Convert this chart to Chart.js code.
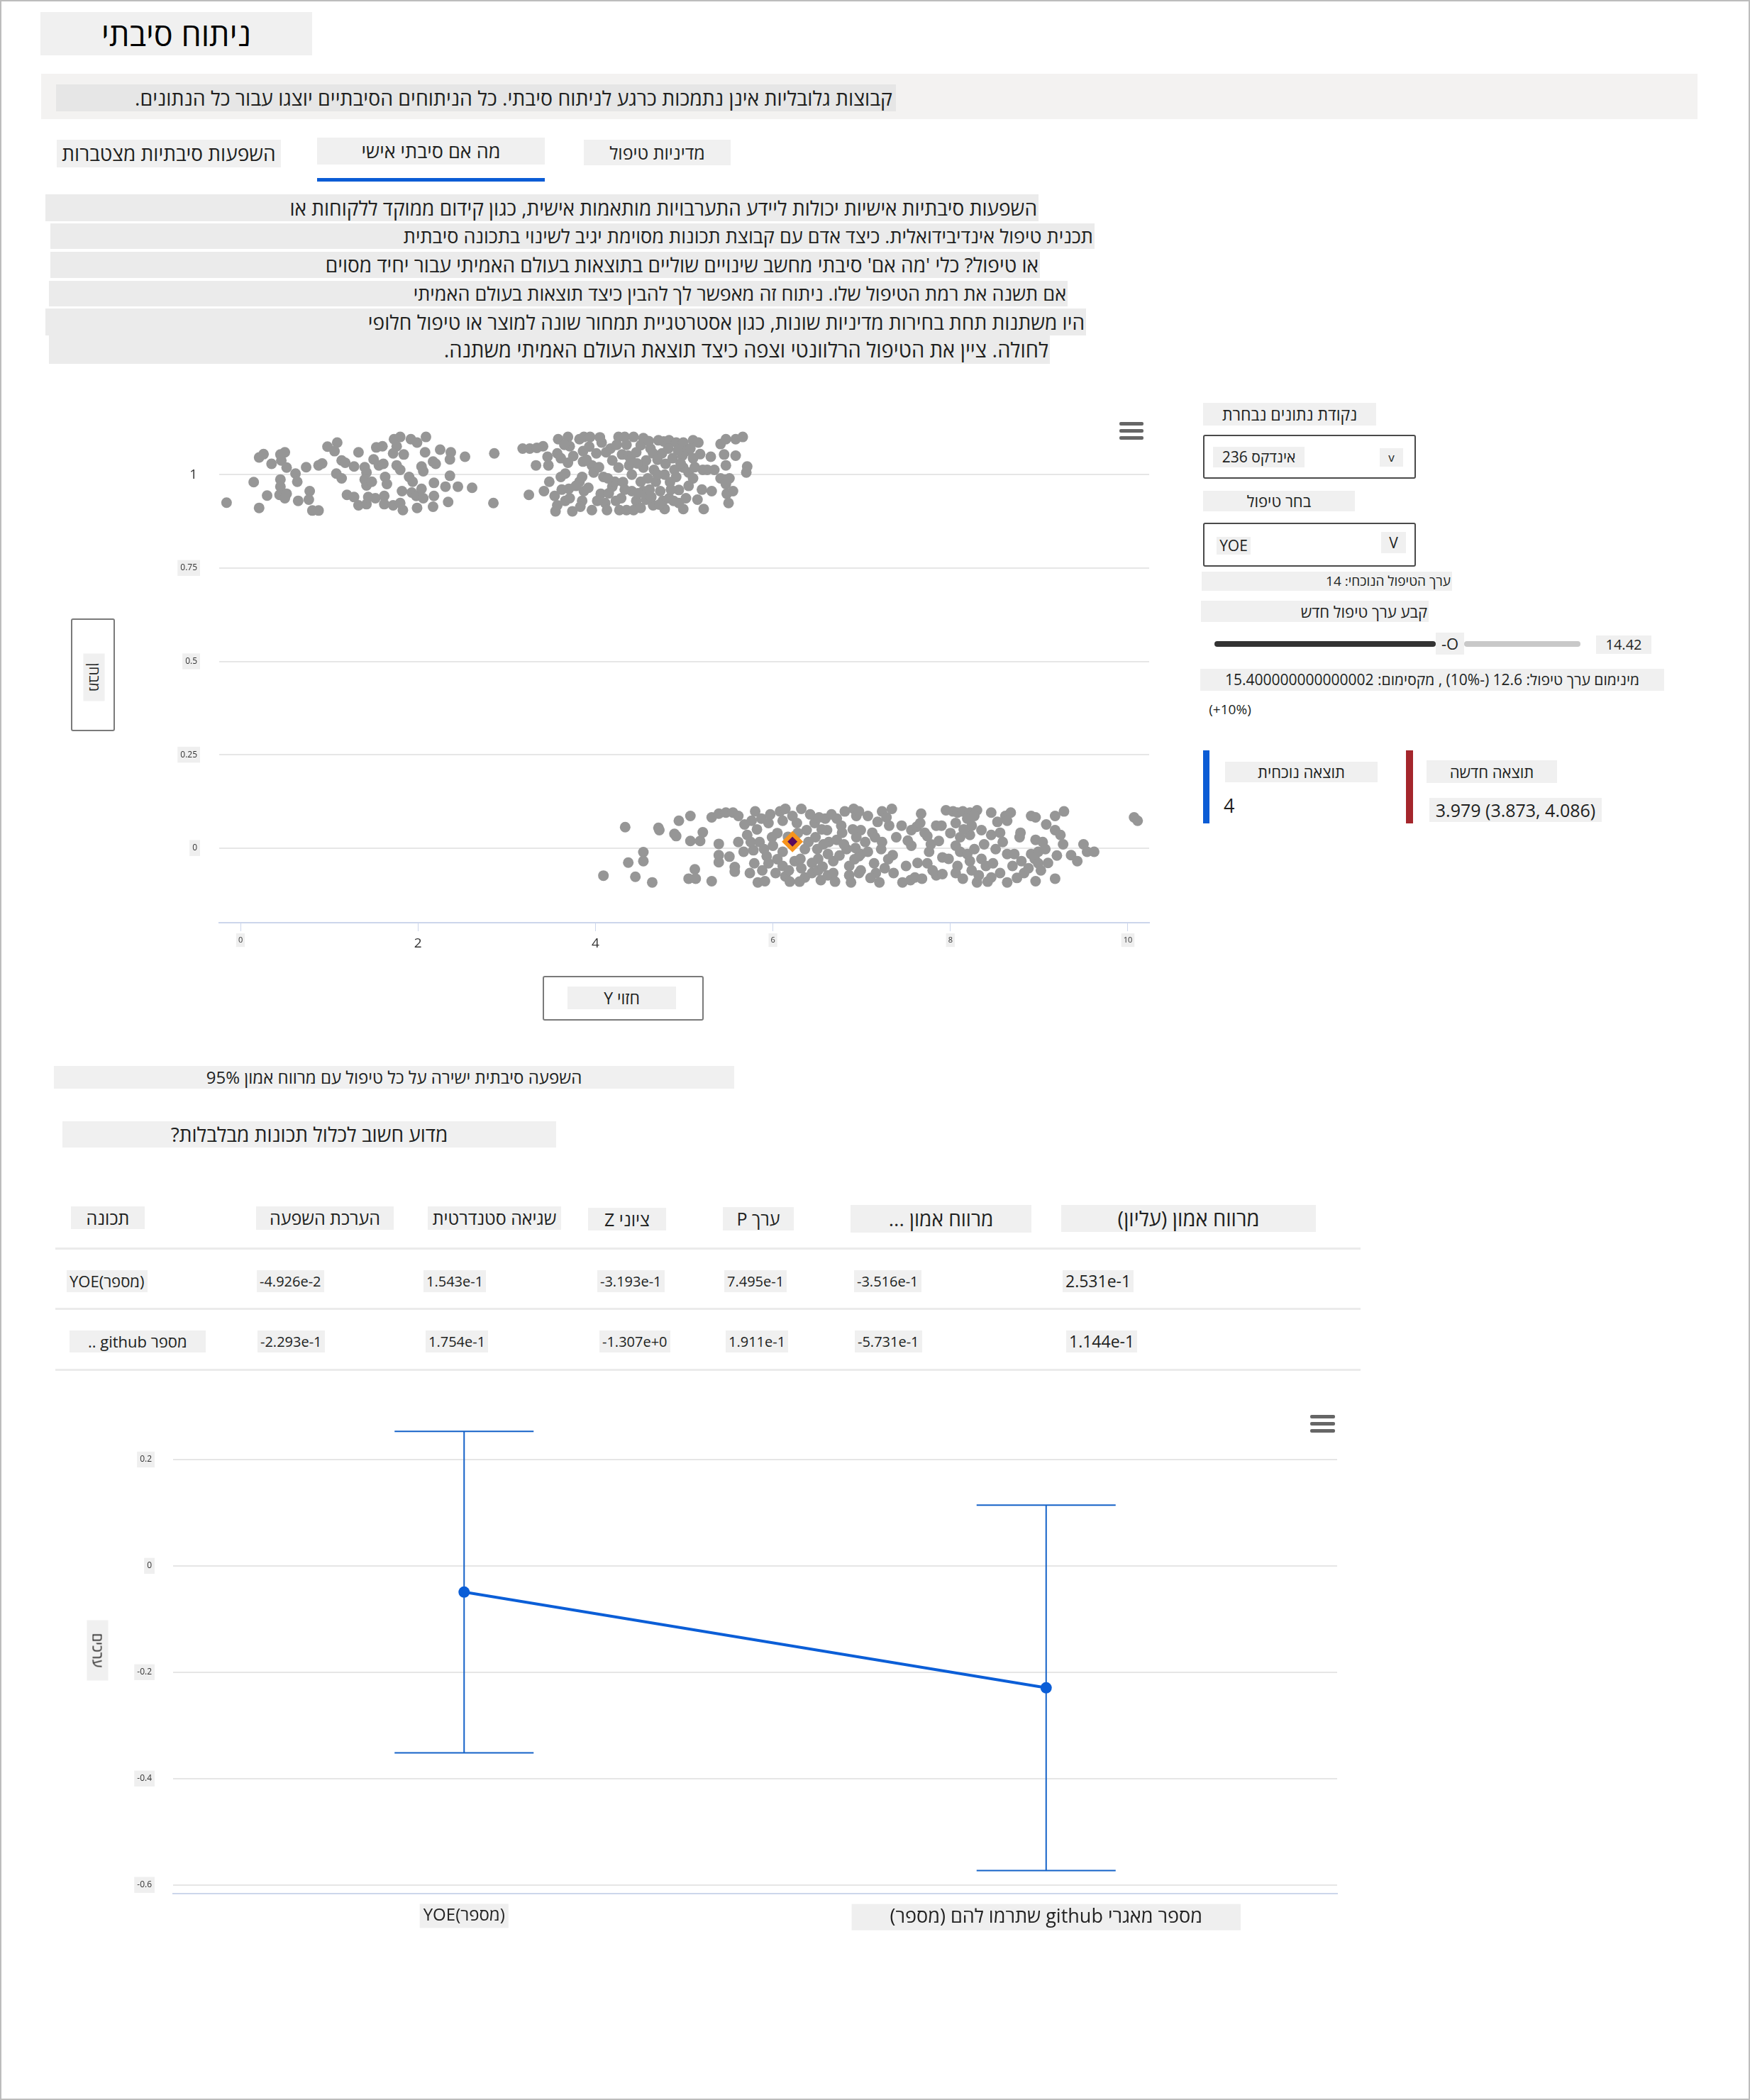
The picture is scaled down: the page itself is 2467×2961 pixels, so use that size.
<!DOCTYPE html>
<html lang="he">
<head>
<meta charset="utf-8">
<script src="https://cdn.jsdelivr.net/npm/chart.js@4.4.1/dist/chart.umd.min.js"></script>
<style>
html,body{margin:0;padding:0;background:#fff;}
body{width:2467px;height:2961px;position:relative;overflow:hidden;font-family:'Open Sans','DejaVu Sans',sans-serif;color:#201f1e;}
.frame{position:absolute;left:0;top:0;width:2463px;height:2957px;border:2px solid #bdbdbd;}
.b{position:absolute;background:#f0f0f0;white-space:nowrap;box-sizing:border-box;}
.c{text-align:center;}
.r{text-align:right;}
.line{position:absolute;background:#ebebeb;}
.d{background:#ebebeb;padding-right:2px;font-size:28px;}
.sel{position:absolute;box-sizing:border-box;border:2px solid #4a4a4a;border-radius:3px;background:#fff;}
.ham{position:absolute;height:5px;border-radius:2px;background:#666;}
.axbox{position:absolute;box-sizing:border-box;border:2px solid #7a7a7a;border-radius:3px;background:#fff;}
</style>
</head>
<body>
<div class="frame"></div>

<div class="b c" dir="rtl" style="left:57px;top:17px;width:383px;height:61px;line-height:61px;font-size:45px;color:#000">ניתוח סיבתי</div>

<div class="b" style="left:58px;top:104px;width:2335px;height:64px;background:#f3f2f1"></div>
<div class="b r" dir="rtl" style="left:79px;top:119px;width:1184px;height:38px;line-height:38px;font-size:28.4px;background:#e6e6e6;padding-right:5px">קבוצות גלובליות אינן נתמכות כרגע לניתוח סיבתי. כל הניתוחים הסיבתיים יוצגו עבור כל הנתונים.</div>

<div class="b c" dir="rtl" style="left:80px;top:197px;width:316px;height:39px;line-height:39px;font-size:28px">השפעות סיבתיות מצטברות</div>
<div class="b c" dir="rtl" style="left:447px;top:194px;width:321px;height:38px;line-height:38px;font-size:27px">מה אם סיבתי אישי</div>
<div class="b" style="left:447px;top:251px;width:321px;height:5px;background:#0b5cd5"></div>
<div class="b c" dir="rtl" style="left:823px;top:197px;width:207px;height:36px;line-height:36px;font-size:25px">מדיניות טיפול</div>

<div class="b r d" dir="rtl" style="left:64px;top:274px;width:1400px;height:38px;line-height:38px">השפעות סיבתיות אישיות יכולות ליידע התערבויות מותאמות אישית, כגון קידום ממוקד ללקוחות או</div>
<div class="b r d" dir="rtl" style="left:71px;top:315px;width:1472px;height:36px;line-height:36px;font-size:27px">תכנית טיפול אינדיבידואלית. כיצד אדם עם קבוצת תכונות מסוימת יגיב לשינוי בתכונה סיבתית</div>
<div class="b r d" dir="rtl" style="left:71px;top:355px;width:1395px;height:37px;line-height:37px">או טיפול? כלי 'מה אם' סיבתי מחשב שינויים שוליים בתוצאות בעולם האמיתי עבור יחיד מסוים</div>
<div class="b r d" dir="rtl" style="left:69px;top:396px;width:1436px;height:36px;line-height:36px;font-size:27px">אם תשנה את רמת הטיפול שלו. ניתוח זה מאפשר לך להבין כיצד תוצאות בעולם האמיתי</div>
<div class="b r d" dir="rtl" style="left:64px;top:435px;width:1467px;height:38px;line-height:38px">היו משתנות תחת בחירות מדיניות שונות, כגון אסטרטגיית תמחור שונה למוצר או טיפול חלופי</div>
<div class="b r d" dir="rtl" style="left:69px;top:473px;width:1411px;height:40px;line-height:40px;font-size:29px">לחולה. ציין את הטיפול הרלוונטי וצפה כיצד תוצאת העולם האמיתי משתנה.</div>

<!-- scatter chart -->
<div style="position:absolute;left:200px;top:540px;width:1440px;height:830px"><canvas id="scatter" width="1440" height="830" style="width:1440px;height:830px"></canvas></div>
<div class="ham" style="left:1578px;top:595px;width:34px"></div>
<div class="ham" style="left:1578px;top:605px;width:34px"></div>
<div class="ham" style="left:1578px;top:615px;width:34px"></div>
<div class="axbox" style="left:100px;top:872px;width:62px;height:159px"></div>
<div class="b c" dir="rtl" style="left:99px;top:940px;width:67px;height:30px;line-height:30px;font-size:20px;transform:rotate(90deg)">מבחן</div>
<div class="axbox" style="left:765px;top:1376px;width:227px;height:63px"></div>
<div class="b c" dir="rtl" style="left:800px;top:1391px;width:153px;height:32px;line-height:32px;font-size:23px">חזוי Y</div>

<!-- right panel -->
<div class="b c" dir="rtl" style="left:1696px;top:568px;width:244px;height:32px;line-height:32px;font-size:23px">נקודת נתונים נבחרת</div>
<div class="sel" style="left:1696px;top:613px;width:300px;height:62px"></div>
<div class="b c" dir="rtl" style="left:1710px;top:630px;width:129px;height:29px;line-height:29px;font-size:21px">אינדקס 236</div>
<div class="b c" style="left:1945px;top:632px;width:33px;height:26px;line-height:26px;font-size:17px">v</div>
<div class="b c" dir="rtl" style="left:1696px;top:692px;width:214px;height:29px;line-height:29px;font-size:22px">בחר טיפול</div>
<div class="sel" style="left:1696px;top:737px;width:300px;height:62px"></div>
<div class="b c" style="left:1715px;top:757px;width:48px;height:25px;line-height:25px;font-size:21px">YOE</div>
<div class="b c" style="left:1947px;top:750px;width:35px;height:30px;line-height:30px;font-size:21px">V</div>
<div class="b r" dir="rtl" style="left:1694px;top:806px;width:353px;height:27px;line-height:27px;font-size:19px;padding-right:2px">ערך הטיפול הנוכחי: 14</div>
<div class="b r" dir="rtl" style="left:1693px;top:847px;width:321px;height:30px;line-height:30px;font-size:22px;padding-right:2px">קבע ערך טיפול חדש</div>
<div class="b" style="left:1712px;top:904px;width:312px;height:8px;border-radius:4px;background:#333"></div>
<div class="b" style="left:2064px;top:904px;width:164px;height:8px;border-radius:4px;background:#c8c8c8"></div>
<div class="b c" style="left:2024px;top:892px;width:40px;height:31px;line-height:31px;font-size:22px">-O</div>
<div class="b c" style="left:2250px;top:896px;width:78px;height:26px;line-height:26px;font-size:20px">14.42</div>
<div class="b c" dir="rtl" style="left:1692px;top:943px;width:654px;height:31px;line-height:31px;font-size:21px">מינימום ערך טיפול: 12.6 (-10%) , מקסימום: 15.400000000000002</div>
<div class="b c" dir="ltr" style="left:1697px;top:987px;width:74px;height:27px;line-height:27px;font-size:19px;background:#fff">(+10%)</div>
<div class="b" style="left:1696px;top:1058px;width:9px;height:103px;background:#0b5cd5"></div>
<div class="b c" dir="rtl" style="left:1727px;top:1074px;width:215px;height:29px;line-height:29px;font-size:22px">תוצאה נוכחית</div>
<div class="b" style="left:1725px;top:1118px;height:36px;line-height:36px;font-size:27px;background:#fff">4</div>
<div class="b" style="left:1982px;top:1058px;width:10px;height:103px;background:#a4262c"></div>
<div class="b c" dir="rtl" style="left:2011px;top:1072px;width:184px;height:32px;line-height:32px;font-size:22px">תוצאה חדשה</div>
<div class="b c" style="left:2015px;top:1125px;width:243px;height:34px;line-height:34px;font-size:25px">3.979 (3.873, 4.086)</div>

<!-- section heads -->
<div class="b c" dir="rtl" style="left:76px;top:1503px;width:959px;height:32px;line-height:32px;font-size:24px">השפעה סיבתית ישירה על כל טיפול עם מרווח אמון 95%</div>
<div class="b c" dir="rtl" style="left:88px;top:1581px;width:696px;height:37px;line-height:37px;font-size:28px">מדוע חשוב לכלול תכונות מבלבלות?</div>

<!-- table -->
<div id="table"></div>

<!-- effects chart -->
<div style="position:absolute;left:100px;top:1960px;width:1810px;height:800px"><canvas id="effects" width="1810" height="800" style="width:1810px;height:800px"></canvas></div>
<div class="ham" style="left:1847px;top:1995px;width:35px"></div>
<div class="ham" style="left:1847px;top:2005px;width:35px"></div>
<div class="ham" style="left:1847px;top:2015px;width:35px"></div>
<div class="b c" dir="rtl" style="left:95px;top:2312px;width:85px;height:30px;line-height:30px;font-size:20px;transform:rotate(90deg)">ערכים</div>

<script>
// ---------- data ----------
const outcomeOnePoints = [
[-0.157,0.925],[0.149,0.980],[0.21,0.911],[0.21,1.046],[0.26,1.055],[0.30,0.944],[0.35,1.029],[0.45,0.987],[0.45,0.968],[0.45,1.054],[0.50,1.06],[0.46,1.038],[0.52,1.019],[0.44,0.946],[0.52,0.949],[0.50,0.937],[0.62,1.003],[0.64,0.981],[0.65,0.930],[0.74,1.02],[0.78,0.956],[0.77,0.933],[0.81,0.904],[0.88,0.904],[0.88,1.025],[0.92,1.03],[0.98,1.075],[1.09,1.086],[1.06,1.063],[1.08,1.003],[1.14,0.99],[1.14,1.038],[1.18,1.032],[1.20,0.946],[1.28,0.94],[1.28,1.022],[1.33,1.06],[1.33,0.918],[1.42,0.921],[1.40,1.02],[1.42,1.006],[1.40,0.987],[1.42,0.971],[1.48,0.981],[1.44,0.94],[1.52,0.937],[1.50,1.041],[1.53,1.073],[1.60,1.076],[1.56,1.025],[1.61,1.029],[1.63,0.994],[1.65,0.975],[1.62,0.943],[1.62,0.921],[1.72,0.918],[1.73,1.095],[1.80,1.101],[1.76,1.076],[1.72,1.057],[1.76,1.025],[1.80,1.013],[1.82,0.956],[1.83,0.905],[1.80,0.924],[1.84,1.054],[1.90,0.994],[1.94,0.981],[1.92,1.095],[1.99,1.086],[2.09,1.101],[1.93,0.952],[1.98,0.943],[2.04,0.962],[1.99,0.911],[2.04,1.022],[2.06,1.009],[2.08,1.06],[2.06,0.937],[2.17,1.035],[2.20,1.029],[2.18,0.978],[2.18,0.943],[2.17,0.914],[2.25,1.067],[2.31,0.968],[2.34,0.927],[2.36,1.041],[2.37,1.06],[2.36,0.997],[2.45,0.968],[2.53,1.048],[2.61,0.965],[2.86,1.057],[2.85,0.924],
[3.18,1.07],[3.26,1.07],[3.34,1.072],[3.41,1.076],[3.25,0.946],[3.33,1.025],[3.42,0.956],[3.46,1.048],[3.47,1.025],[3.48,0.981],[3.58,1.095],[3.69,1.101],[3.57,1.057],[3.61,1.044],[3.54,0.943],[3.57,0.918],[3.55,0.902],[3.61,0.994],[3.66,1.003],[3.69,1.032],[3.71,1.076],[3.70,0.962],[3.66,0.930],[3.71,0.937],[3.74,0.902],[3.82,1.095],[3.87,1.101],[3.94,1.101],[3.86,1.063],[3.86,1.035],[3.85,0.994],[3.82,0.981],[3.87,0.956],[3.85,0.930],[3.83,0.914],[3.96,1.025],[3.98,1.006],[4.01,1.057],[3.96,0.905],[4.07,1.086],[4.09,0.994],[4.06,0.949],[4.11,0.924],[4.13,0.905],[4.17,1.070],[4.19,1.038],[4.19,0.968],[4.22,0.981],[4.26,1.101],[4.33,1.101],[4.26,1.019],[4.30,1.054],[4.29,0.937],[4.27,0.905],[4.35,0.905],[4.37,1.051],[4.38,1.025],[4.41,1.0],[4.41,0.956],[4.43,1.101],[4.46,0.930],[4.43,0.905],[4.51,1.079],[4.54,1.098],[4.54,1.019],[4.57,1.038],[4.51,0.981],[4.54,0.956],[4.57,0.933],[4.51,0.911],[4.62,1.070],[4.65,1.057],[4.66,1.013],[4.68,0.981],[4.73,0.956],[4.65,0.918],[4.71,1.092],[4.77,1.089],[4.83,1.092],[4.75,1.057],[4.79,1.029],[4.78,1.0],[4.76,0.930],[4.78,0.908],[4.83,0.937],[4.87,1.044],[4.89,1.013],[4.91,0.994],[4.94,0.959],[4.91,1.086],[4.99,1.086],[4.94,0.924],[4.99,0.908],[4.98,1.051],[5.02,1.063],[4.99,1.019],[5.05,1.006],[5.02,0.937],[5.10,1.092],[5.16,1.086],[5.10,1.044],[5.10,0.990],[5.15,0.933],[5.22,0.908],[5.21,1.013],[5.26,1.013],[5.30,1.048],[5.31,0.956],[5.34,1.013],[5.41,1.082],[5.47,1.095],[5.45,1.054],[5.47,1.025],[5.41,0.990],[5.46,0.987],[5.51,0.990],[5.47,0.975],[5.48,0.949],[5.50,0.924],[5.58,1.051],[5.58,1.095],[5.66,1.101],[5.55,0.956],[5.71,1.022],[5.70,1.006],
[3.75,1.05],[3.78,0.97],[3.92,0.965],[3.93,1.075],[4.02,0.93],[4.04,1.02],[4.12,1.06],[4.14,0.99],[4.15,0.95],[4.23,0.93],[4.24,1.08],[4.31,0.98],[4.33,0.96],[4.35,1.08],[4.46,1.06],[4.47,1.03],[4.48,0.95],[4.59,0.99],[4.60,1.09],[4.61,0.96],[4.63,0.94],[4.70,1.04],[4.70,1.00],[4.72,0.92],[4.82,1.07],[4.84,0.98],[4.85,0.96],[4.88,0.93],[4.93,1.065],[4.96,1.03],[5.05,0.97],[5.07,1.07],[5.12,1.02],[5.18,1.055],[5.20,0.96],[3.65,1.08],[3.62,0.96],[3.90,1.04],[4.05,1.10],[4.40,1.04]
];
const outcomeZeroPoints = [
[4.335,0.056],[4.09,-0.074],[4.37,-0.039],[4.45,-0.077],[4.54,-0.011],[4.54,-0.035],[4.64,-0.092],[4.71,0.054],[4.72,0.048],[4.89,0.038],[4.91,0.032],[4.94,0.073],[5.07,0.086],[5.07,0.019],[5.18,0.019],[5.21,0.042],[5.12,-0.057],[5.05,-0.082],[5.13,-0.082],[5.31,-0.089],[5.31,0.082],[5.39,0.092],[5.47,0.095],[5.55,0.095],[5.61,0.086],[5.39,0.011],[5.39,-0.019],[5.39,-0.038],[5.51,-0.023],[5.57,-0.051],[5.57,-0.063],[5.61,0.016],[5.67,-0.010],[5.68,0.063],[5.76,0.073],[5.71,0.035],[5.75,0.016],[5.78,-0.006],[5.74,-0.067],[5.79,-0.041],[5.80,0.098],[5.83,-0.092],[5.91,-0.089],[5.87,0.079],[5.95,0.067],[5.85,0.016],[5.90,-0.003],[5.93,-0.022],[5.95,-0.041],[5.99,0.029],[6.0,0.006],[6.03,-0.067],[6.08,0.098],[6.14,0.105],[6.11,0.073],[6.11,-0.010],[6.11,-0.048],[6.14,-0.076],[6.22,0.086],[6.27,0.067],[6.32,0.105],[6.245,-0.035],[6.31,-0.029],[6.32,-0.054],[6.36,-0.079],[6.38,0.048],[6.40,0.016],[6.36,-0.003],[6.44,-0.067],[6.51,-0.060],[6.54,-0.086],[6.47,0.067],[6.52,0.082],[6.59,0.079],[6.48,0.029],[6.50,-0.003],[6.51,-0.029],[6.61,0.048],[6.63,0.016],[6.62,-0.016],[6.62,-0.073],[6.68,-0.035],[6.68,-0.067],[6.72,0.079],[6.72,0.022],[6.77,0.060],[6.78,0.041],[6.81,0.098],[6.91,0.105],[6.94,0.086],[6.83,-0.003],[6.86,-0.048],[6.86,-0.073],[6.88,-0.092],[6.94,0.029],[6.97,-0.022],[6.97,-0.067],
[6.97,0.098],[7.07,0.086],[6.99,0.048],[7.04,0.016],[6.99,-0.016],[7.07,-0.010],[6.99,-0.060],[7.12,0.041],[7.15,0.029],[7.14,-0.041],[7.16,-0.067],[7.20,-0.092],[7.26,-0.054],[7.23,0.098],[7.34,0.105],[7.28,0.082],[7.31,0.060],[7.23,0.016],[7.22,-0.003],[7.35,-0.019],[7.36,-0.067],[7.39,0.029],[7.46,-0.092],[7.50,-0.048],[7.55,-0.086],[7.60,-0.079],[7.68,-0.082],[7.56,0.048],[7.56,0.006],[7.62,0.057],[7.66,0.067],[7.67,0.092],[7.71,0.041],[7.74,0.032],[7.76,-0.010],[7.78,0.010],[7.74,-0.041],[7.84,0.060],[7.90,0.060],[7.87,0.019],[7.84,-0.073],[7.91,-0.070],[7.91,-0.025],[7.98,-0.029],[7.95,0.101],[8.03,0.098],[8.08,0.095],[8.14,0.098],[8.22,0.095],[8.30,0.101],[8.06,0.067],[8.11,0.029],[8.06,0.006],[8.08,-0.048],[8.06,-0.067],[8.14,-0.082],[8.11,-0.010],[8.19,0.079],[8.22,0.035],[8.24,0.060],[8.27,0.086],[8.19,-0.016],[8.22,-0.035],[8.27,-0.003],[8.24,-0.060],[8.30,-0.092],[8.32,-0.073],[8.35,-0.029],[8.35,0.048],[8.38,0.010],[8.40,-0.048],[8.46,0.095],[8.46,0.035],[8.48,-0.041],[8.46,-0.079],[8.51,-0.003],[8.56,0.041],[8.59,0.016],[8.56,-0.067],[8.62,0.086],[8.68,0.095],[8.64,0.073],[8.64,-0.016],[8.64,-0.092],[8.70,-0.048],[8.72,-0.016],[8.78,0.029],[8.79,0.041],[8.80,-0.035],[8.83,-0.067],[8.88,-0.054],[8.91,0.086],[8.96,0.082],[8.91,-0.016],[8.95,-0.029],[8.99,-0.010],[8.99,-0.041],[8.96,0.022],[9.04,0.016],[8.96,-0.089],[9.02,-0.060],[9.08,0.063],[9.07,-0.003],[9.18,0.086],[9.28,0.098],[9.18,0.048],[9.18,-0.082],[9.24,0.035],[9.27,0.010],[9.36,-0.019],[9.43,-0.035],[9.50,0.010],[9.54,-0.010],[9.62,-0.010],[10.07,0.082],[10.11,0.073],
[5.82,0.05],[5.88,-0.06],[5.97,0.09],[6.05,0.04],[6.05,-0.03],[6.17,0.03],[6.18,-0.06],[6.19,-0.09],[6.28,0.04],[6.30,-0.09],[6.42,0.09],[6.44,-0.04],[6.55,0.05],[6.57,0.01],[6.56,-0.05],[6.66,0.09],[6.70,-0.09],[6.75,-0.02],[6.80,0.01],[6.90,0.05],[6.92,-0.03],[6.93,0.00],[7.10,-0.08],[7.18,0.07],[7.30,-0.03],[7.45,0.06],[7.52,0.02],[7.63,-0.04],[7.80,-0.06],[8.00,0.04],[8.15,0.05],[8.42,-0.09],[8.53,0.07],[8.75,-0.08],[9.10,-0.04],[9.20,-0.02]
];
const selectedPoint = [6.22, 0.017];
const scatterXTicks = [0, 2, 4, 6, 8, 10];
const scatterYTicks = [0, 0.25, 0.5, 0.75, 1];

const featureLabels = ['YOE(מספר)', 'מספר מאגרי github שתרמו להם (מספר)'];
const featureShortNames = ['YOE(מספר)', 'מספר github ..'];
const effectEstimates = [-0.04926, -0.2293];
const stdErrors = [0.1543, 0.1754];
const zScores = [-0.3193, -1.307];
const pValues = [0.7495, 0.1911];
const ciLower = [-0.3516, -0.5731];
const ciUpper = [0.2531, 0.1144];
const effectYTicks = [0.2, 0, -0.2, -0.4, -0.6];
const tableHeaders = ['תכונה', 'הערכת השפעה', 'שגיאה סטנדרטית', 'ציוני Z', 'ערך P', 'מרווח אמון ...', 'מרווח אמון (עליון)'];

// ---------- table ----------
const tbl = document.getElementById('table');
function addBox(parent, text, style, dir) {
  const d = document.createElement('div');
  d.className = 'b c';
  if (dir) d.dir = dir;
  d.textContent = text;
  Object.assign(d.style, style);
  parent.appendChild(d);
  return d;
}
const headPos = [[100,1701,104,32,25],[361,1701,194,33,25],[603,1701,188,33,25],[829,1703,110,32,25],[1019,1702,100,33,25],[1199,1699,255,39,28],[1496,1699,359,38,29]];
tableHeaders.forEach((h, i) => {
  const [l,t,w,hh,fs] = headPos[i];
  addBox(tbl, h, {left:l+'px', top:t+'px', width:w+'px', height:hh+'px', lineHeight:hh+'px', fontSize:fs+'px'}, 'rtl');
});
[1759, 1844, 1930].forEach(t => {
  const d = document.createElement('div');
  d.className = 'line';
  Object.assign(d.style, {left:'78px', top:t+'px', width:'1840px', height:'3px'});
  tbl.appendChild(d);
});
const colLeft = [[94,98], [362,363], [597,600], [842,845], [1021,1023], [1204,1205], [1498,1503]];
const rowTop = [1791, 1876];
featureShortNames.forEach((name, r) => {
  const vals = [effectEstimates[r], stdErrors[r], zScores[r], pValues[r], ciLower[r], ciUpper[r]].map(v => v.toExponential(3));
  const cells = [name].concat(vals);
  cells.forEach((txt, c) => {
    const fs = c === 6 ? 23 : (c === 0 ? 22 : 20);
    const pad = (c === 0 && r === 1) ? '0 26px' : '0 4px';
    addBox(tbl, txt, {left:colLeft[c][r]+'px', top:rowTop[r]+'px', height:'31px', lineHeight:'31px', fontSize:fs+'px', padding:pad}, c === 0 && r === 1 ? 'rtl' : 'ltr');
  });
});

// ---------- charts ----------
const FONT = "'Open Sans','DejaVu Sans',sans-serif";
Chart.defaults.font.family = FONT;
Chart.defaults.color = '#333';

const toXY = p => ({x: p[0], y: p[1]});
const noPadY = (w) => s => { s.width = w; s.paddingTop = 0; s.paddingBottom = 0; };
const noPadX = (h) => s => { s.height = h; s.paddingLeft = 0; s.paddingRight = 0; };

new Chart(document.getElementById('scatter'), {
  type: 'scatter',
  data: {
    datasets: [
      {data: [toXY(selectedPoint)], pointStyle: 'rectRot', pointRadius: 7, backgroundColor: '#5a0b5e', borderWidth: 0, order: 0},
      {data: [toXY(selectedPoint)], pointStyle: 'rectRot', pointRadius: 15, backgroundColor: '#f7941d', borderWidth: 0, order: 1},
      {data: outcomeOnePoints.concat(outcomeZeroPoints).map(toXY), pointRadius: 7.5, backgroundColor: '#969696', borderWidth: 0, order: 2}
    ]
  },
  options: {
    responsive: false, animation: false,
    layout: {padding: {left: 0, right: 20, top: 24, bottom: 0}},
    plugins: {legend: {display: false}, tooltip: {enabled: false}},
    scales: {
      x: {
        type: 'linear', min: -0.24, max: 10.24,
        afterBuildTicks: ax => { ax.ticks = scatterXTicks.map(v => ({value: v})); },
        afterFit: noPadX(69),
        grid: {drawOnChartArea: false, drawTicks: true, tickLength: 12, color: '#ccd6eb', lineWidth: 1},
        border: {display: true, color: '#ccd6eb', width: 2},
        ticks: {
          autoSkip: false, maxRotation: 0, padding: 6, color: '#333',
          callback: v => String(v),
          font: ctx => ({size: (ctx.tick && (ctx.tick.value === 2 || ctx.tick.value === 4)) ? 19 : 11}),
          showLabelBackdrop: true,
          backdropColor: ctx => (ctx.tick && (ctx.tick.value === 2 || ctx.tick.value === 4)) ? 'rgba(0,0,0,0)' : '#efefef',
          backdropPadding: 3
        }
      },
      y: {
        type: 'linear', min: -0.2, max: 1.2,
        afterBuildTicks: ax => { ax.ticks = scatterYTicks.map(v => ({value: v})); },
        afterFit: noPadY(109),
        grid: {color: '#e6e6e6', lineWidth: 2, drawTicks: false},
        border: {display: false},
        ticks: {
          padding: 31, color: '#333',
          callback: v => String(v),
          font: ctx => ({size: (ctx.tick && ctx.tick.value === 1) ? 19 : 12}),
          showLabelBackdrop: true,
          backdropColor: ctx => (ctx.tick && ctx.tick.value === 1) ? 'rgba(0,0,0,0)' : '#efefef',
          backdropPadding: 4
        }
      }
    }
  }
});

const xLabelSizes = [24, 27];
const xLabelBoxPad = [5, 54];
const X_TICK_PAD = 17;
const errorBars = {
  id: 'errorBars',
  beforeDraw(chart) {
    // grey boxes behind the category labels
    const {ctx, scales: {x}} = chart;
    ctx.save();
    ctx.fillStyle = '#efefef';
    featureLabels.forEach((lab, i) => {
      const size = xLabelSizes[i];
      ctx.font = size + 'px ' + FONT;
      const w = ctx.measureText(lab).width;
      const cx = x.getPixelForTick(i);
      const cy = x.top + X_TICK_PAD + size * 1.2 / 2;
      const pad = xLabelBoxPad[i];
      ctx.fillRect(cx - w / 2 - pad, cy - size / 2 - 5, w + 2 * pad, size + 10);
    });
    ctx.restore();
  },
  beforeDatasetsDraw(chart) {
    const {ctx, scales: {x, y}} = chart;
    ctx.save();
    ctx.strokeStyle = '#1462c8';
    ctx.lineWidth = 2;
    ciLower.forEach((lo, i) => {
      const px = x.getPixelForValue(i);
      const yl = y.getPixelForValue(lo), yh = y.getPixelForValue(ciUpper[i]);
      ctx.beginPath();
      ctx.moveTo(px, yl); ctx.lineTo(px, yh);
      ctx.moveTo(px - 98, yh); ctx.lineTo(px + 98, yh);
      ctx.moveTo(px - 98, yl); ctx.lineTo(px + 98, yl);
      ctx.stroke();
    });
    ctx.restore();
  }
};
const isRTL = s => /^[\u0590-\u05FF]/.test(s);
new Chart(document.getElementById('effects'), {
  type: 'line',
  data: {
    labels: featureLabels,
    datasets: [{data: effectEstimates, borderColor: '#0b5ed7', backgroundColor: '#0b5ed7', borderWidth: 4, pointRadius: 8, pointBorderWidth: 0, tension: 0}]
  },
  plugins: [errorBars],
  options: {
    responsive: false, animation: false,
    layout: {padding: {left: 0, right: 25, top: 23, bottom: 0}},
    plugins: {legend: {display: false}, tooltip: {enabled: false}},
    scales: {
      x: {
        type: 'category', offset: true,
        afterFit: noPadX(90),
        grid: {display: false, drawTicks: false},
        border: {display: true, color: '#ccd6eb', width: 2},
        ticks: {
          autoSkip: false, maxRotation: 0, padding: X_TICK_PAD, color: '#222',
          callback: function(v, i) { const l = featureLabels[i]; return isRTL(l) ? '\u202B' + l + '\u202C' : l; },
          font: ctx => ({size: xLabelSizes[ctx.index] || 24})
        }
      },
      y: {
        type: 'linear', min: -0.6164, max: 0.3,
        afterBuildTicks: ax => { ax.ticks = effectYTicks.map(v => ({value: v})); },
        afterFit: noPadY(144),
        grid: {color: '#e6e6e6', lineWidth: 2, drawTicks: false},
        border: {display: false},
        ticks: {
          padding: 30, color: '#333', font: {size: 12},
          callback: v => String(v),
          showLabelBackdrop: true, backdropColor: '#efefef', backdropPadding: 4
        }
      }
    }
  }
});
</script>
</body>
</html>
